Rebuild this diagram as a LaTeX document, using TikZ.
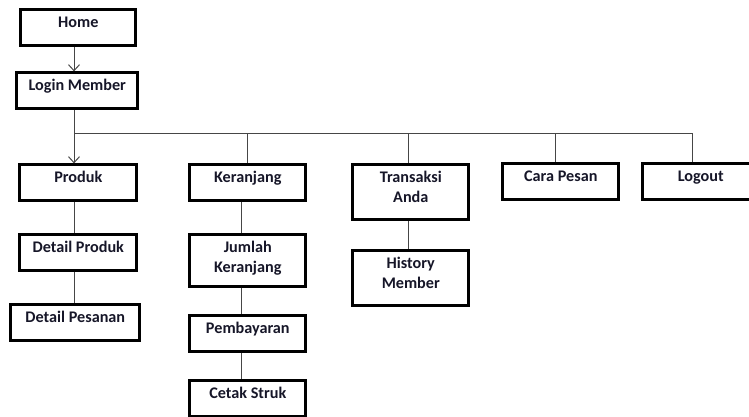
\documentclass[tikz,border=0pt]{standalone}
\usepackage{fontspec}
\setmainfont{Carlito}
\usetikzlibrary{arrows.meta}
\definecolor{ink}{RGB}{22,22,40}
\definecolor{wire}{RGB}{70,70,70}
\begin{document}
\begin{tikzpicture}[x=1pt,y=-1pt,
  menu/.style={draw=black, line width=2.8pt, fill=white, inner sep=0pt,
    anchor=north west, align=center, text=ink,
    font=\fontsize{16.2}{20}\selectfont\bfseries},
  onerow/.style={text height=18pt, text depth=18pt},
  tworow/.style={text height=38pt, text depth=17pt},
  link/.style={draw=wire, line width=1pt},
  arrowlink/.style={link, -{Straight Barb[length=6pt,width=11pt,line width=1pt]}}]
\useasboundingbox (0,0) rectangle (749,417);
% top level
\node[menu, onerow, minimum width=115pt] (home) at (19.4,8.4) {Home};
\node[menu, onerow, minimum width=121pt] (login) at (15.4,71.4) {Login Member};
% branch menus
\node[menu, onerow, minimum width=117pt] (produk) at (18.4,163.4) {Produk};
\node[menu, onerow, minimum width=117pt] (dproduk) at (18.4,233.4) {Detail Produk};
\node[menu, onerow, minimum width=129pt] (dpesanan) at (9.4,303.4) {Detail Pesanan};
\node[menu, onerow, minimum width=116pt] (keranjang) at (188.4,163.4) {Keranjang};
\node[menu, tworow, text depth=14pt, minimum width=116pt] (jumlah) at (188.4,233.4) {Jumlah\\Keranjang};
\node[menu, onerow, minimum width=116pt] (bayar) at (188.4,314.4) {Pembayaran};
\node[menu, onerow, minimum width=116pt] (struk) at (188.4,379.4) {Cetak Struk};
\node[menu, tworow, minimum width=116pt] (transaksi) at (351.4,163.4) {Transaksi\\Anda};
\node[menu, tworow, minimum width=116pt] (history) at (351.4,249.4) {History\\Member};
\node[menu, onerow, minimum width=116pt] (cara) at (501.4,162.4) {Cara Pesan};
\node[menu, onerow, minimum width=116pt] (logout) at (641.4,162.4) {Logout};
% junction points on the distribution line
\coordinate (bus) at (74,133);
\coordinate (kbus) at (247,133);
\coordinate (tbus) at (408,133);
\coordinate (cbus) at (555,133);
\coordinate (lbus) at (692,133);
\coordinate (kx) at (241,0);
% connectors
\draw[arrowlink] (home.south -| bus) -- (login.north -| bus);
\draw[arrowlink] (login.south -| bus) -- (produk.north -| bus);
\draw[link] (bus) -- (lbus);
\draw[link] (kbus) -- (keranjang.north -| kbus);
\draw[link] (tbus) -- (transaksi.north -| tbus);
\draw[link] (cbus) -- (cara.north -| cbus);
\draw[link] (lbus) -- (logout.north -| lbus);
\draw[link] (produk.south -| bus) -- (dproduk.north -| bus);
\draw[link] (dproduk.south -| bus) -- (dpesanan.north -| bus);
\draw[link] (keranjang.south -| kx) -- (jumlah.north -| kx);
\draw[link] (jumlah.south -| kx) -- (bayar.north -| kx);
\draw[link] (bayar.south -| kx) -- (struk.north -| kx);
\draw[link] (transaksi.south -| tbus) -- (history.north -| tbus);
\end{tikzpicture}
\end{document}
